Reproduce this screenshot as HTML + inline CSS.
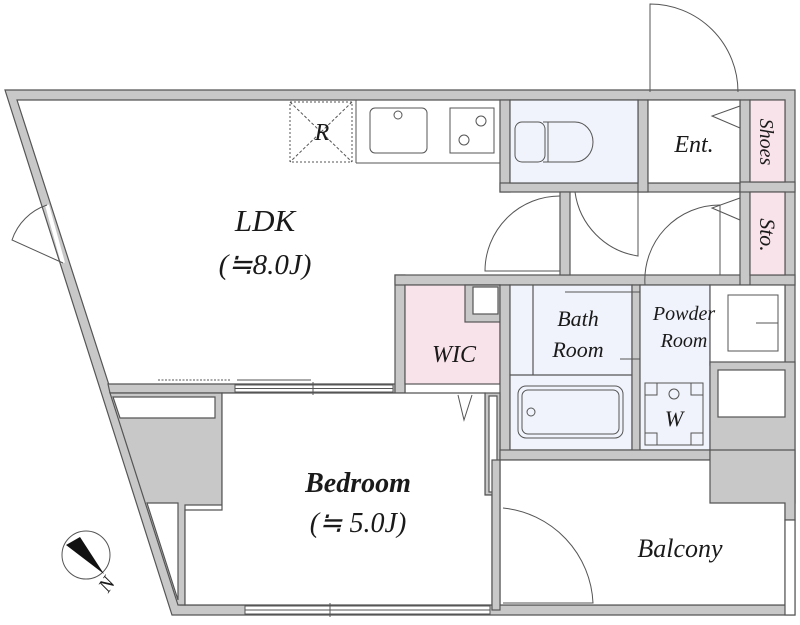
<!DOCTYPE html>
<html><head><meta charset="utf-8"><style>
html,body{margin:0;padding:0;background:#fff;width:800px;height:625px;overflow:hidden}
svg{display:block}
text{font-family:"Liberation Serif",serif;font-style:italic;fill:#1a1a1a}
</style></head><body>
<svg width="800" height="625" viewBox="0 0 800 625" xmlns="http://www.w3.org/2000/svg">
<g stroke="#555" stroke-width="1.2">
<polygon points="5,90 795,90 795,615 172,615" fill="#c8c8c8"/>
<polygon points="17,100 785,100 785,605 180,605" fill="#fff"/>
<polygon points="108,384 405,384 405,393 110,393" fill="#c8c8c8"/>
<polygon points="110,393 222,393 222,505 185,505 185,605 178,605" fill="#c8c8c8"/>
<polygon points="113,397 215,397 215,418 120,418" fill="#fff"/>
<polygon points="147,503 178,503 178,600 178,600" fill="#fff"/>
<rect x="395" y="275" width="10" height="118" fill="#c8c8c8"/>
<rect x="395" y="275" width="400" height="10" fill="#c8c8c8"/>
<rect x="500" y="100" width="10" height="92" fill="#c8c8c8"/>
<rect x="500" y="183" width="248" height="9" fill="#c8c8c8"/>
<rect x="638" y="100" width="10" height="92" fill="#c8c8c8"/>
<rect x="740" y="100" width="10" height="185" fill="#c8c8c8"/>
<rect x="740" y="182" width="55" height="10" fill="#c8c8c8"/>
<rect x="510" y="100" width="128" height="83" fill="#f0f3fb"/>
<rect x="648" y="100" width="92" height="83" fill="#fff"/>
<rect x="750" y="100" width="35" height="82" fill="#f9e3ea"/>
<rect x="750" y="192" width="35" height="83" fill="#f9e3ea"/>
<rect x="560" y="192" width="10" height="83" fill="#c8c8c8"/>
<rect x="405" y="285" width="95" height="99" fill="#f9e3ea"/>
<rect x="465" y="285" width="35" height="37" fill="#c8c8c8"/>
<rect x="473" y="287" width="25" height="27" fill="#fff"/>
<rect x="500" y="285" width="10" height="175" fill="#c8c8c8"/>
<rect x="485" y="393" width="15" height="102" fill="#c8c8c8"/>
<rect x="489" y="396" width="8" height="96" fill="#fff"/>
<rect x="510" y="285" width="122" height="165" fill="#f0f3fb"/>
<line x1="510" y1="375" x2="632" y2="375"/>
<line x1="533" y1="285" x2="533" y2="375"/>
<rect x="632" y="285" width="8" height="175" fill="#c8c8c8"/>
<rect x="640" y="285" width="70" height="165" fill="#f0f3fb"/>
<rect x="710" y="285" width="75" height="80" fill="#fff"/>
<rect x="710" y="362" width="85" height="141" fill="#c8c8c8"/>
<rect x="718" y="370" width="67" height="47" fill="#fff"/>
<rect x="500" y="450" width="210" height="10" fill="#c8c8c8"/>
<rect x="500" y="460" width="285" height="145" fill="#fff"/>
<polygon points="710,450 795,450 795,520 785,520 785,503 710,503" fill="#c8c8c8"/>
<rect x="785" y="520" width="10" height="95" fill="#fff"/>
<polygon points="222,393 485,393 485,495 492,495 492,605 185,605 185,510 222,510" fill="#fff"/>
<rect x="492" y="460" width="8" height="150" fill="#c8c8c8"/>
</g>
<g stroke="#555" stroke-width="1" fill="none">
<rect x="235" y="385" width="158" height="7" fill="#fff"/>
<line x1="235" y1="388.5" x2="393" y2="388.5"/>
<line x1="313" y1="382" x2="313" y2="395"/>
<line x1="158" y1="380" x2="230" y2="380" stroke-dasharray="2,1.5"/>
<line x1="237" y1="380" x2="311" y2="380"/>
<rect x="245" y="606" width="245" height="8" fill="#fff"/>
<line x1="245" y1="610" x2="490" y2="610"/>
<line x1="330" y1="603" x2="330" y2="617"/>
<line x1="47" y1="205" x2="63" y2="263" stroke="#fff" stroke-width="4"/>
<path d="M63,263 L12,240 A55,55 0 0 1 47,205"/>
<path d="M650,92 L650,4 A88,88 0 0 1 738,92"/>
<path d="M740,106 L712,116 L740,128"/>
<path d="M740,198 L712,208 L740,220"/>
<path d="M458,395 L464,420 L472,395"/>
<path d="M560,196 A75,75 0 0 0 485,271 L560,271"/>
<path d="M575,192 A75,75 0 0 0 638,256 L638,192"/>
<path d="M645,285 A75,75 0 0 1 720,205 L720,275"/>
<path d="M503,508 A100,100 0 0 1 593,603 L503,603"/>
<rect x="290" y="102" width="62" height="60" stroke-dasharray="2,2"/>
<line x1="290" y1="102" x2="352" y2="162" stroke-dasharray="3,2"/>
<line x1="352" y1="102" x2="290" y2="162" stroke-dasharray="3,2"/>
<line x1="356" y1="100" x2="356" y2="163"/>
<line x1="356" y1="163" x2="500" y2="163"/>
<rect x="370" y="108" width="57" height="45" rx="5"/>
<circle cx="398" cy="115" r="4"/>
<rect x="450" y="108" width="44" height="45"/>
<circle cx="481" cy="121" r="5"/>
<circle cx="464" cy="140" r="5"/>
<rect x="515" y="122" width="30" height="40" rx="7"/>
<path d="M543,122 L575,122 A18,20 0 0 1 575,162 L543,162"/>
<line x1="548" y1="122" x2="548" y2="162"/>
<rect x="518" y="386" width="105" height="52" rx="8"/>
<rect x="522" y="390" width="97" height="44" rx="6"/>
<circle cx="531" cy="412" r="4"/>
<path d="M565,292 L640,292 M640,359 L620,359"/>
<rect x="728" y="295" width="50" height="56"/>
<line x1="756" y1="323" x2="778" y2="323"/>
<rect x="645" y="383" width="58" height="62"/>
<rect x="645" y="383" width="12" height="12"/><rect x="691" y="383" width="12" height="12"/>
<rect x="645" y="433" width="12" height="12"/><rect x="691" y="433" width="12" height="12"/>
<circle cx="674" cy="394" r="5"/>
<circle cx="86" cy="555" r="24"/>
</g>
<polygon points="66,545 80,537 104,574" fill="#111"/>
<text x="265" y="231" font-size="31" text-anchor="middle">LDK</text>
<text x="265" y="274" font-size="29" text-anchor="middle">(≒8.0J)</text>
<text x="358" y="492" font-size="28" text-anchor="middle" font-weight="bold">Bedroom</text>
<text x="358" y="532" font-size="28" text-anchor="middle">(≒ 5.0J)</text>
<text x="680" y="557" font-size="26" text-anchor="middle">Balcony</text>
<text x="454" y="362" font-size="24" text-anchor="middle">WIC</text>
<text x="578" y="326" font-size="22" text-anchor="middle">Bath</text>
<text x="578" y="357" font-size="22" text-anchor="middle">Room</text>
<text x="684" y="320" font-size="20" text-anchor="middle">Powder</text>
<text x="684" y="347" font-size="20" text-anchor="middle">Room</text>
<text x="694" y="152" font-size="24" text-anchor="middle">Ent.</text>
<text x="322" y="140" font-size="24" text-anchor="middle">R</text>
<text x="674" y="426" font-size="22" text-anchor="middle">W</text>
<text transform="translate(760,142) rotate(90)" font-size="20" text-anchor="middle">Shoes</text>
<text transform="translate(760,235) rotate(90)" font-size="22" text-anchor="middle">Sto.</text>
<text transform="translate(112,588) rotate(-55)" font-size="20" text-anchor="middle">N</text>
</svg>
</body></html>
